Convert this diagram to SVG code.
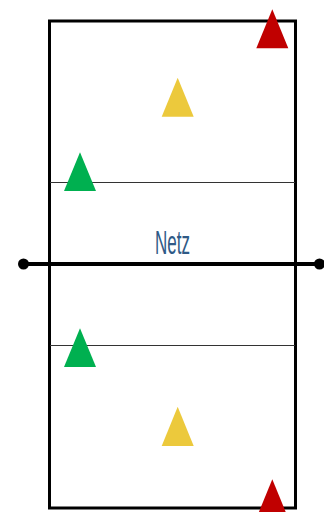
<svg xmlns="http://www.w3.org/2000/svg" width="324" height="512" viewBox="0 0 324 512">
<style>
.court{fill:none;stroke:#000;stroke-width:3}
.line{stroke:#333;stroke-width:1.2}
.net{stroke:#000;stroke-width:4}
.red{fill:#C00000}
.yel{fill:#ECC93C}
.grn{fill:#00B050}
.lbl{font-family:"Liberation Sans",Arial,sans-serif;font-size:33px;fill:#2F5A86}
</style>
<rect width="324" height="512" fill="#fff"/>
<g id="court">
<rect class="court" x="49.5" y="21" width="246" height="487"/>
<line class="line" x1="50" y1="182.5" x2="295" y2="182.5"/>
<line class="line" x1="50" y1="345.5" x2="295" y2="345.5"/>
</g>
<g id="net">
<line class="net" x1="23" y1="264" x2="319" y2="264"/>
<circle cx="23.5" cy="264" r="5.5"/>
<circle cx="319.5" cy="264" r="5.5"/>
<text class="lbl" x="155" y="253.5" textLength="35" lengthAdjust="spacingAndGlyphs">Netz</text>
</g>
<g id="players">
<polygon class="red" points="272.3,9.3 288.3,48.3 256.3,48.3"/>
<polygon class="yel" points="177.7,77.7 193.7,116.7 161.7,116.7"/>
<polygon class="grn" points="80,152.3 96,191 64,191"/>
<polygon class="grn" points="80,328.3 96,367 64,367"/>
<polygon class="yel" points="177.7,406.7 193.7,446 161.7,446"/>
<polygon class="red" points="272.3,479.3 288.3,518.3 256.3,518.3"/>
</g>
</svg>
